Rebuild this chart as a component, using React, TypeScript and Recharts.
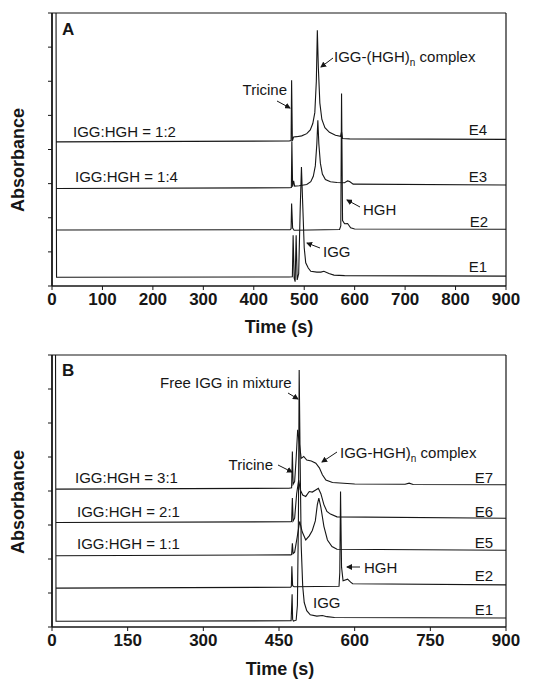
import React from 'react';
import { LineChart, Line, XAxis, YAxis, ReferenceLine } from 'recharts';

// Panel A traces: time (s) and stacked absorbance (arbitrary units, 0-100 of the frame)
const aE4t = [8, 470, 474, 475, 476.5, 479, 485, 495, 505, 512, 517, 521, 524, 526, 528, 531, 535, 541, 550, 562, 572, 574, 576, 590, 900];
const aE4v = [52.8, 53.1, 53.3, 75.4, 53.2, 54.6, 54.7, 55.0, 55.8, 57.2, 59.5, 63.5, 75, 93.7, 80, 67, 61, 58, 56.3, 55.2, 54.8, 56.5, 54.0, 53.9, 53.7];

const aE3t = [8, 470, 474.5, 475.5, 477, 479, 481, 490, 505, 513, 518, 522, 525, 527, 529, 532, 536, 542, 552, 565, 580, 586, 590, 597, 900];
const aE3v = [35.7, 36.0, 36.1, 53, 36.4, 38.5, 36.6, 36.7, 37.2, 38.2, 40.2, 44, 52, 60.7, 52, 45, 41, 39, 38.2, 37.9, 37.8, 38.5, 38.3, 37.3, 37.0];

const aE2t = [8, 472, 474, 475, 477, 480, 570, 572.5, 574, 576, 580, 586, 592, 600, 900];
const aE2v = [20.5, 20.6, 21, 30.2, 21.2, 20.4, 20.7, 22, 70.5, 24, 22.8, 22.9, 21.3, 20.9, 20.8];

const aE1t = [8, 9, 470, 476.5, 478, 480, 482, 484, 486, 489, 492, 494.5, 497, 500, 503, 508, 513, 525, 533, 539, 549, 559, 580, 900];
const aE1v = [100, 3.2, 3.3, 3.4, 18.6, 3.0, 1.6, 18.6, 2.2, 4.5, 28, 43.6, 30, 14, 8.5, 6.6, 5.4, 5.1, 5.1, 5.4, 4.6, 4.0, 3.8, 3.6];

// Panel B traces
const bE7t = [8, 470, 475, 476.5, 478, 481, 484, 487, 490, 494, 499, 505, 514, 523, 530, 536, 543, 556, 600, 700, 708, 716, 900];
const bE7v = [50.7, 51.0, 51.2, 64.5, 52.5, 53.5, 62, 72.5, 68, 62, 62.7, 61.4, 61, 60.2, 58.5, 56, 54, 53.1, 52.6, 52.5, 52.9, 52.4, 52.3];

const bE6t = [8, 473, 475, 476.5, 478, 481, 485, 489, 492, 497, 503, 510, 516, 522, 528, 533, 539, 545, 552, 565, 900];
const bE6v = [38.4, 38.7, 38.8, 47.4, 39, 40, 49, 54, 50.5, 48.5, 48, 49.8, 49.6, 50.3, 51, 49, 45, 42.5, 41.5, 40.5, 40];

const bE5t = [8, 473, 475, 476.5, 478, 481, 486, 491, 496, 503, 510, 516, 522, 526, 529, 533, 539, 546, 555, 565, 900];
const bE5v = [26.2, 26.5, 26.6, 30.8, 27, 27.5, 33, 38.8, 35, 32, 33.5, 35.5, 39, 45, 47.4, 44, 37, 32, 29.6, 28.6, 28.2];

const bE2t = [8, 473, 474.5, 475.5, 477, 480, 569, 570.5, 572, 574, 577, 586, 592, 596, 900];
const bE2v = [14.3, 14.6, 15, 22.3, 15.2, 14.8, 15.0, 20, 49.8, 22, 17, 17.6, 16.5, 15.9, 15.5];

const bE1t = [7, 8, 474, 476, 477, 478.5, 484, 486.5, 488.5, 490, 492, 494, 497, 500, 505, 512, 525, 536, 545, 560, 900];
const bE1v = [100, 2.1, 2.3, 12, 2.8, 2.2, 2.5, 8, 40, 94.5, 60, 30, 15, 9, 6, 4.5, 4.0, 4.2, 3.8, 3.5, 3.3];

const ticksA = [0, 100, 200, 300, 400, 500, 600, 700, 800, 900];
const ticksB = [0, 150, 300, 450, 600, 750, 900];
const yTicks = [0, 12.5, 25, 37.5, 50, 62.5, 75, 87.5, 100];

const INK = '#161616';
const FONT = '"Liberation Sans", Arial, Helvetica, sans-serif';

const pts = (t: number[], v: number[]) => t.map((x, i) => ({ t: x, v: v[i] }));

const tracesA = [pts(aE4t, aE4v), pts(aE3t, aE3v), pts(aE2t, aE2v), pts(aE1t, aE1v)];
const tracesB = [pts(bE7t, bE7v), pts(bE6t, bE6v), pts(bE5t, bE5v), pts(bE2t, bE2v), pts(bE1t, bE1v)];

interface PanelProps {
  traces: { t: number; v: number }[][];
  ticks: number[];
  top: number;
  axisH: number;
}

const Panel = ({ traces, ticks, top, axisH }: PanelProps) => (
  <LineChart width={546} height={340} margin={{ top, right: 40, bottom: 0, left: 51 }}>
    <XAxis
      type="number"
      dataKey="t"
      domain={[0, 900]}
      ticks={ticks}
      allowDataOverflow
      height={axisH}
      tickSize={4}
      tickMargin={3}
      axisLine={{ stroke: INK, strokeWidth: 1.6 }}
      tickLine={{ stroke: INK }}
      tick={{ fill: INK, fontSize: 17, fontWeight: 700, fontFamily: FONT }}
    />
    <YAxis
      type="number"
      domain={[0, 100]}
      ticks={yTicks}
      allowDataOverflow
      width={1}
      tickSize={4}
      tickFormatter={() => ''}
      axisLine={{ stroke: INK, strokeWidth: 1.8 }}
      tickLine={{ stroke: INK }}
    />
    <ReferenceLine y={100} stroke={INK} strokeWidth={1.2} />
    <ReferenceLine x={900} stroke={INK} strokeWidth={1.2} />
    {traces.map((d, i) => (
      <Line
        key={i}
        data={d}
        dataKey="v"
        type="linear"
        dot={false}
        stroke={INK}
        strokeWidth={1.1}
        isAnimationActive={false}
      />
    ))}
  </LineChart>
);

interface NoteProps {
  x: number;
  y: number;
  children: React.ReactNode;
  anchor?: 'start' | 'middle' | 'end';
  size?: number;
  weight?: number;
}

const Note = ({ x, y, children, anchor = 'start', size = 15, weight = 400 }: NoteProps) => (
  <text x={x} y={y} textAnchor={anchor} fontSize={size} fontWeight={weight} fontFamily={FONT} fill={INK}>
    {children}
  </text>
);

const Arrow = ({ x1, y1, x2, y2 }: { x1: number; y1: number; x2: number; y2: number }) => (
  <line x1={x1} y1={y1} x2={x2} y2={y2} stroke={INK} strokeWidth={1} markerEnd="url(#head)" />
);

const YTitle = ({ cy }: { cy: number }) => (
  <text x={0} y={0} transform={`translate(24 ${cy}) rotate(-90)`} textAnchor="middle" fontSize={18} fontWeight={700} fontFamily={FONT} fill={INK}>
    Absorbance
  </text>
);

export default function App() {
  return (
    <div style={{ position: 'absolute', left: 0, top: 0, width: 546, height: 680, background: '#fff' }}>
      <div style={{ position: 'absolute', left: 0, top: 0 }}>
        <Panel traces={tracesA} ticks={ticksA} top={13} axisH={54} />
      </div>
      <div style={{ position: 'absolute', left: 0, top: 340 }}>
        <Panel traces={tracesB} ticks={ticksB} top={15} axisH={53} />
      </div>
      <svg width={546} height={680} style={{ position: 'absolute', left: 0, top: 0, pointerEvents: 'none' }}>
        <defs>
          <marker id="head" markerWidth="6" markerHeight="6" refX="5" refY="3" orient="auto">
            <path d="M0,0 L6,3 L0,6 z" fill={INK} />
          </marker>
        </defs>

        {/* panel A */}
        <Note x={62} y={35} size={17} weight={700}>A</Note>
        <YTitle cy={160} />
        <Note x={279} y={333} size={18} weight={700} anchor="middle">Time (s)</Note>
        <Note x={287} y={95} anchor="end">Tricine</Note>
        <Arrow x1={277} y1={101} x2={290} y2={108} />
        <text x={334} y={62} fontSize={15} fontFamily={FONT} fill={INK}>
          IGG-(HGH)<tspan fontSize={10} dy={4}>n</tspan><tspan dy={-4}> complex</tspan>
        </text>
        <Arrow x1={333} y1={58} x2={321} y2={67} />
        <Note x={73} y={137}>IGG:HGH = 1:2</Note>
        <Note x={75} y={182}>IGG:HGH = 1:4</Note>
        <Note x={363} y={215}>HGH</Note>
        <Arrow x1={360} y1={207} x2={347} y2={200} />
        <Note x={323} y={257}>IGG</Note>
        <Arrow x1={320} y1={248} x2={307} y2={243} />
        <Note x={487} y={135} anchor="end">E4</Note>
        <Note x={487} y={182} anchor="end">E3</Note>
        <Note x={488} y={227} anchor="end">E2</Note>
        <Note x={487} y={272} anchor="end">E1</Note>

        {/* panel B */}
        <Note x={62} y={376} size={17} weight={700}>B</Note>
        <YTitle cy={502} />
        <Note x={280} y={675} size={18} weight={700} anchor="middle">Time (s)</Note>
        <Note x={160} y={388}>Free IGG in mixture</Note>
        <Arrow x1={288} y1={393} x2={298} y2={399} />
        <Note x={273} y={470} anchor="end">Tricine</Note>
        <Arrow x1={278} y1={465} x2={292} y2={472} />
        <text x={340} y={458} fontSize={15} fontFamily={FONT} fill={INK}>
          IGG-HGH)<tspan fontSize={10} dy={4}>n</tspan><tspan dy={-4}> complex</tspan>
        </text>
        <Arrow x1={337} y1={452} x2={322} y2={462} />
        <Note x={75} y={483}>IGG:HGH = 3:1</Note>
        <Note x={77} y={517}>IGG:HGH = 2:1</Note>
        <Note x={77} y={549}>IGG:HGH = 1:1</Note>
        <Note x={364} y={573}>HGH</Note>
        <Arrow x1={360} y1={567} x2={347} y2={567} />
        <Note x={313} y={608}>IGG</Note>
        <Note x={493} y={483} anchor="end">E7</Note>
        <Note x={493} y={517} anchor="end">E6</Note>
        <Note x={493} y={548} anchor="end">E5</Note>
        <Note x={493} y={581} anchor="end">E2</Note>
        <Note x={493} y={615} anchor="end">E1</Note>
      </svg>
    </div>
  );
}
